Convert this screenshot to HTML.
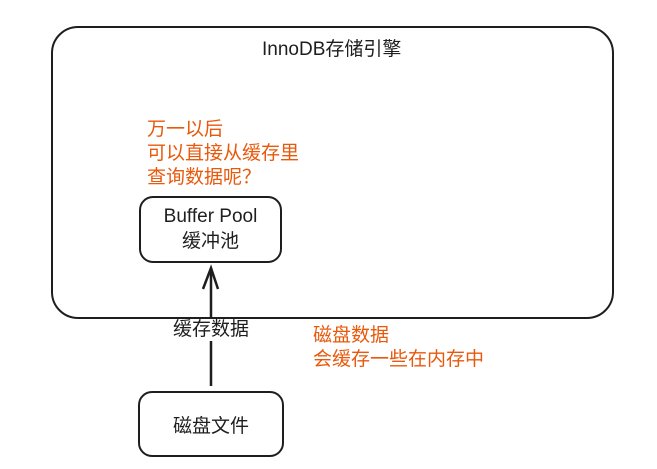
<!DOCTYPE html>
<html><head><meta charset="utf-8"><style>
body{margin:0;width:657px;height:469px;background:#fff;overflow:hidden;position:relative;font-family:"Liberation Sans","Noto Sans CJK SC",sans-serif}
.t{position:absolute;white-space:nowrap}
.o{color:#e8590c;font-size:19px;line-height:24px}
</style></head><body>
<svg width="657" height="469" style="position:absolute;left:0;top:0">
<line x1="211" y1="386" x2="211" y2="268" stroke="#1e1e1e" stroke-width="2.5"/>
<rect x="168" y="319" width="86" height="22" fill="#fff"/>
<rect x="52" y="27" width="561" height="291" rx="26" fill="none" stroke="#1e1e1e" stroke-width="2"/>
<rect x="140" y="197" width="141" height="65" rx="13" fill="#fff" stroke="#1e1e1e" stroke-width="2"/>
<rect x="139" y="392" width="144" height="64" rx="13" fill="none" stroke="#1e1e1e" stroke-width="2"/>
<path d="M203 289 L211 268 L218 289" fill="none" stroke="#1e1e1e" stroke-width="2.5"/>
</svg>
<div class="t" style="left:262px;top:34px;font-size:19px;color:#1e1e1e">InnoDB存储引擎</div>
<div class="t o" style="left:147px;top:118px">万一以后<br>可以直接从缓存里<br>查询数据呢？</div>
<div class="t" style="left:140px;top:204px;width:141px;text-align:center;font-size:19px;line-height:25px;color:#1e1e1e">Buffer Pool<br>缓冲池</div>
<div class="t" style="left:168px;top:314px;width:86px;text-align:center;font-size:19px;color:#1e1e1e">缓存数据</div>
<div class="t o" style="left:313px;top:324px">磁盘数据<br>会缓存一些在内存中</div>
<div class="t" style="left:139px;top:411px;width:144px;text-align:center;font-size:19px;color:#1e1e1e">磁盘文件</div>
</body></html>
